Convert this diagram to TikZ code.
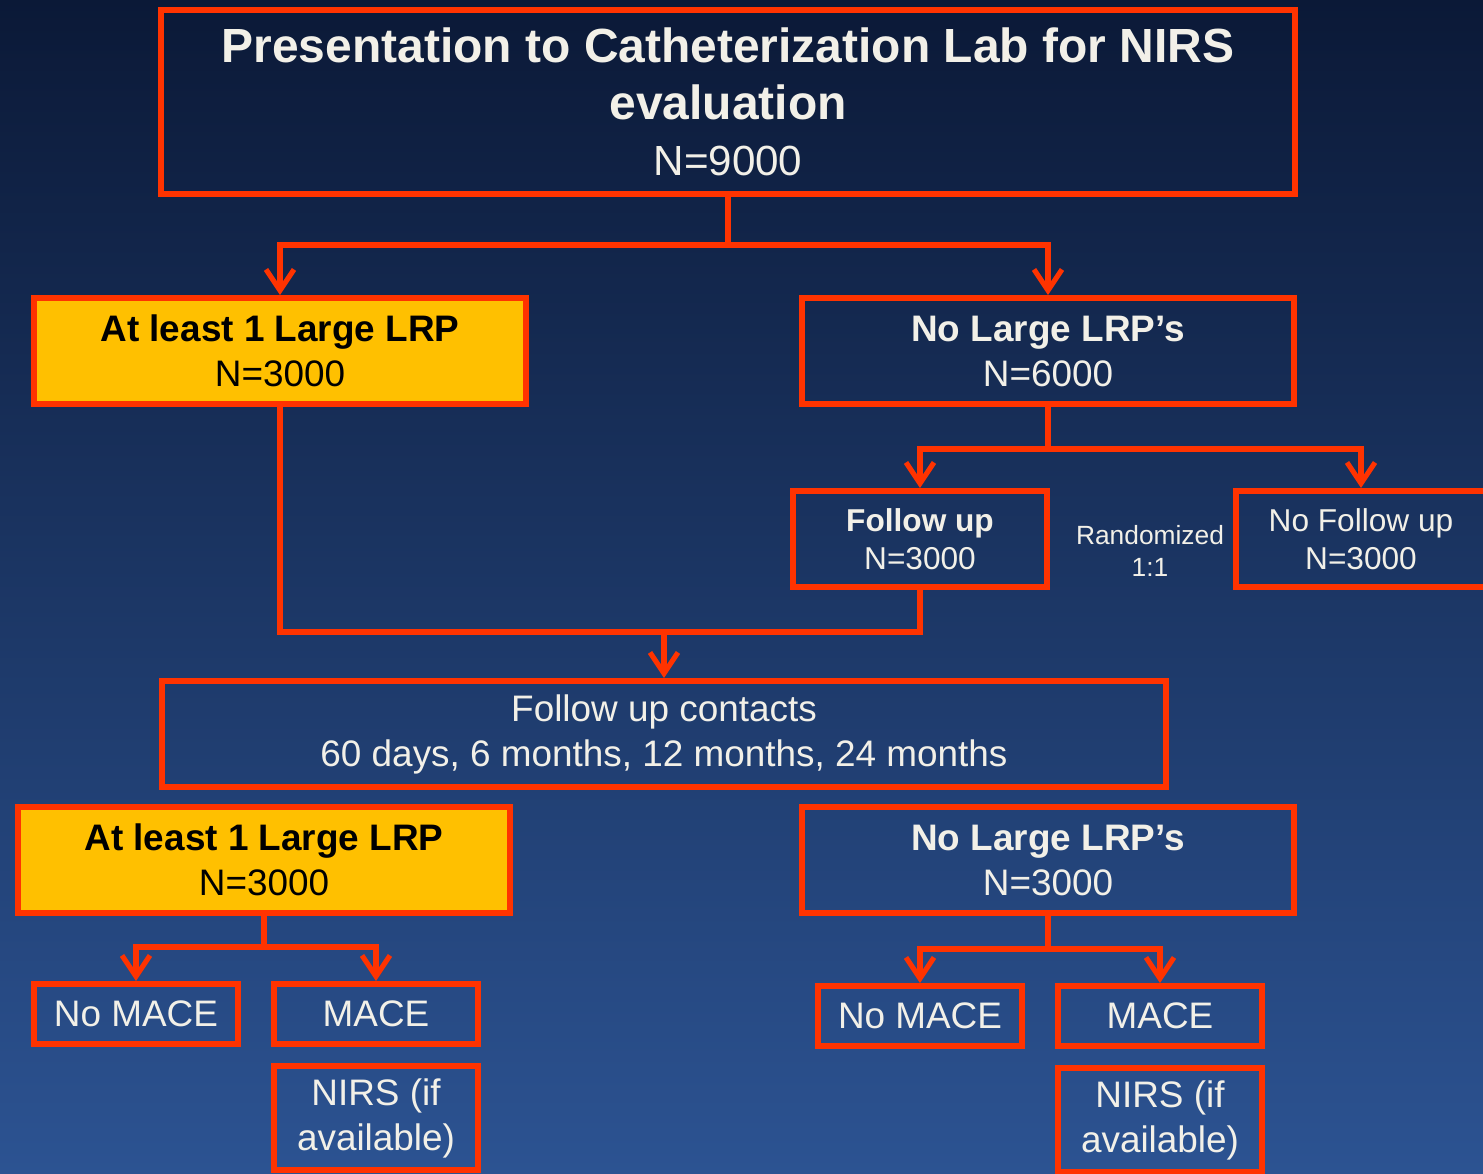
\documentclass[tikz,border=0pt]{standalone}
\usepackage{fontspec}
\setmainfont{Liberation Sans}
\usetikzlibrary{positioning}
\usetikzlibrary{arrows.meta}
\definecolor{bgtop}{RGB}{11,25,55}
\definecolor{bgbot}{RGB}{44,83,146}
\definecolor{boxred}{RGB}{255,51,0}
\definecolor{lrpyellow}{RGB}{255,192,0}
\definecolor{paper}{RGB}{242,240,232}

\begin{document}
\begin{tikzpicture}[x=0.02cm, y=-0.02cm,
    box/.style = {draw=boxred, line width=3.4pt, text=paper, align=center, inner sep=0pt},
    lrp/.style = {box, fill=lrpyellow, text=black},
    wide/.style = {minimum width=9.84cm, minimum height=2.12cm},
    leaf/.style = {minimum width=4.08cm, minimum height=1.2cm},
    big/.style = {font=\fontsize{21pt}{25.6pt}\selectfont},
    mid/.style = {font=\fontsize{18pt}{21.6pt}\selectfont},
    link/.style = {draw=boxred, line width=2.9pt},
    arr/.style = {link, -{Straight Barb[length=0.42cm, width=0.56cm]}}]
            % Frame and background
            \clip (0,0) rectangle (1483,1173);
            \shade[top color=bgtop, bottom color=bgbot] (0,0) rectangle (1483,1173);
            % Nodes
            \node[box, minimum width=22.68cm, minimum height=3.68cm,
                  font=\fontsize{27.3pt}{32pt}\selectfont] (study) at (728,102)
                {\bfseries Presentation to Catheterization Lab for NIRS\\
                 \bfseries evaluation\\
                 \fontsize{24pt}{32pt}\selectfont N=9000};
            \node[lrp, wide, big] (lrpa) at (280,351) {\textbf{At least 1 Large LRP}\\N=3000};
            \node[box, wide, big] (nolrpa) at (1048,351) {\textbf{No Large LRP’s}\\N=6000};
            \node[box, mid, minimum width=5.08cm, minimum height=1.92cm] (fu) at (920,539)
                {\textbf{Follow up}\\N=3000};
            \node[box, mid, minimum width=5cm, minimum height=1.92cm] (nofu) at (1361,539)
                {No Follow up\\N=3000};
            \node[text=paper, align=center, font=\fontsize{15pt}{18pt}\selectfont] (rand) at (1150,551)
                {Randomized\\1:1};
            \node[box, big, minimum width=20.08cm, minimum height=2.12cm] (contacts) at (664,734)
                {Follow up contacts\\60 days, 6 months, 12 months, 24 months};
            \node[lrp, wide, big] (lrpb) at (264,860) {\textbf{At least 1 Large LRP}\\N=3000};
            \node[box, wide, big] (nolrpb) at (1048,860) {\textbf{No Large LRP’s}\\N=3000};
            \node[box, leaf, big] (nomacea) at (136,1014) {No MACE};
            \node[box, leaf, big] (macea) at (376,1014) {MACE};
            \node[box, big, minimum width=4.08cm, minimum height=2.08cm] (nirsa) [below=0.32cm of macea]
                {NIRS (if\\available)};
            \node[box, leaf, big] (nomaceb) at (920,1016) {No MACE};
            \node[box, leaf, big] (maceb) at (1160,1016) {MACE};
            \node[box, big, minimum width=4.08cm, minimum height=2.08cm] (nirsb) [below=0.32cm of maceb]
                {NIRS (if\\available)};
            % Split points
            \coordinate (s1) at (728,245);
            \coordinate (s2) at (1048,449);
            \coordinate (s3) at (664,632);
            \coordinate (s4) at (264,947);
            \coordinate (s5) at (1048,949);
            % Edges
            \draw[link] (study) -- (s1);
            \draw[arr] (s1) -| (lrpa);
            \draw[arr] (s1) -| (nolrpa);
            \draw[link] (nolrpa) -- (s2);
            \draw[arr] (s2) -| (fu);
            \draw[arr] (s2) -| (nofu);
            \draw[link] (lrpa) |- (s3);
            \draw[link] (s3) -| (fu);
            \draw[arr] (s3) -- (contacts);
            \draw[link] (lrpb) -- (s4);
            \draw[arr] (s4) -| (nomacea);
            \draw[arr] (s4) -| (macea);
            \draw[link] (nolrpb) -- (s5);
            \draw[arr] (s5) -| (nomaceb);
            \draw[arr] (s5) -| (maceb);
\end{tikzpicture}
\end{document}
